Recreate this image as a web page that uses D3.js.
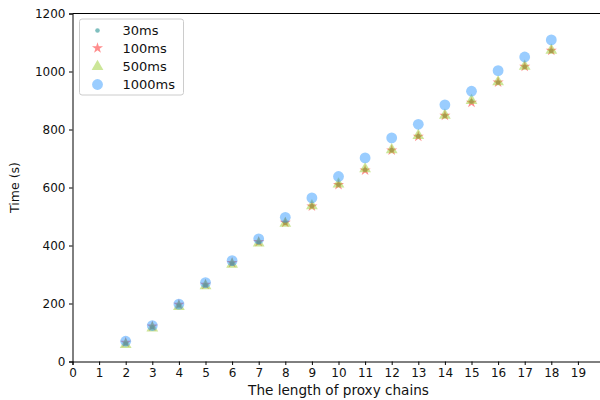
<!DOCTYPE html>
<html>
<head>
<meta charset="utf-8">
<script src="https://cdn.jsdelivr.net/npm/d3@7"></script>
<style>
  body { margin: 0; background: #fff; }
  svg { display: block; font-family: "DejaVu Sans", sans-serif; }
</style>
</head>
<body>
<svg id="chart" width="600" height="400"></svg>
<script>
// proxy chain lengths
const chainLengths = [2, 3, 4, 5, 6, 7, 8, 9, 10, 11, 12, 13, 14, 15, 16, 17, 18]

// time (s) for each interval setting
const time30 = [62, 118, 193, 263, 338, 410, 478, 536, 610, 661, 729, 777, 847, 897, 962, 1016, 1071]
const time100 = [65, 121, 196, 265, 340, 413, 479, 535, 609, 659, 728, 776, 848, 893, 963, 1017, 1072]
const time500 = [58, 115, 189, 261, 335, 408, 476, 537, 612, 664, 730, 779, 849, 900, 964, 1018, 1073]
const time1000 = [70, 124, 198, 272, 348, 423, 497, 564, 638, 702, 771, 818, 885, 932, 1003, 1050, 1109]

const xTicks = d3.range(0, 20)
const yTicks = [0, 200, 400, 600, 800, 1000, 1200]

const seriesNames = ['30ms', '100ms', '500ms', '1000ms']

const svg = d3.select('#chart')

// plot area (right edge runs past the picture, as in the original)
const margin = { top: 13.5, left: 72.5, bottom: 38.5 }
const plotHeight = 400 - margin.top - margin.bottom

const x = d3.scaleLinear()
    .domain([0, 20])
    .range([margin.left, margin.left + 20 * 26.6])

const y = d3.scaleLinear()
    .domain([0, 1200])
    .range([margin.top + plotHeight, margin.top])

// axes
const xAxis = svg.append('g')
    .attr('transform', `translate(0, ${y(0)})`)
    .call(d3.axisBottom(x).tickValues(xTicks).tickSize(3.5).tickPadding(3.5).tickFormat(d3.format('d')))

const yAxis = svg.append('g')
    .attr('transform', `translate(${x(0)}, 0)`)
    .call(d3.axisLeft(y).tickValues(yTicks).tickSize(3.5).tickPadding(3.5).tickFormat(d3.format('d')))

for (const ax of [xAxis, yAxis]) {
    ax.select('.domain').attr('stroke', '#000').attr('stroke-width', 1)
    ax.selectAll('.tick line').attr('stroke', '#000')
    ax.selectAll('.tick text')
        .style('font-family', '"DejaVu Sans", sans-serif')
        .style('font-size', '12px')
        .attr('fill', '#111')
}

// top spine
svg.append('line')
    .attr('x1', x(0)).attr('x2', x(20))
    .attr('y1', y(1200)).attr('y2', y(1200))
    .attr('stroke', '#000')

// axis labels
svg.append('text')
    .attr('x', 338.5)
    .attr('y', 395)
    .attr('text-anchor', 'middle')
    .style('font-size', '13.6px')
    .attr('fill', '#111')
    .text('The length of proxy chains')

svg.append('text')
    .attr('transform', `translate(19, ${y(600)}) rotate(-90)`)
    .attr('text-anchor', 'middle')
    .style('font-size', '12.5px')
    .attr('fill', '#111')
    .text('Time (s)')

// marker drawers
const star = d3.symbol().type(d3.symbolStar)
const tri = d3.symbol().type(d3.symbolTriangle)

function drawCircles(values, r, color, opacity) {
    svg.append('g')
        .selectAll('circle')
        .data(values)
        .enter()
        .append('circle')
        .attr('cx', (d, i) => x(chainLengths[i]))
        .attr('cy', d => y(d))
        .attr('r', r)
        .attr('fill', color)
        .attr('fill-opacity', opacity)
}

function drawSymbols(values, gen, size, color, opacity) {
    svg.append('g')
        .selectAll('path')
        .data(values)
        .enter()
        .append('path')
        .attr('d', gen.size(size))
        .attr('transform', (d, i) => `translate(${x(chainLengths[i])}, ${y(d)})`)
        .attr('fill', color)
        .attr('fill-opacity', opacity)
}

drawCircles(time30, 2.3, 'teal', 0.5)
drawSymbols(time100, star, 38, 'red', 0.45)
drawSymbols(time500, tri, 60, 'yellowgreen', 0.5)
drawCircles(time1000, 5.4, 'dodgerblue', 0.45)

// legend
const legend = svg.append('g').attr('transform', 'translate(79.5, 19)')
legend.append('rect')
    .attr('width', 104)
    .attr('height', 76)
    .attr('rx', 2.5)
    .attr('fill', '#fff')
    .attr('fill-opacity', 0.8)
    .attr('stroke', '#ccc')
    .attr('stroke-width', 1)

const legendRows = [11.5, 29, 47.5, 65.5]
const mk = legend.append('g')
mk.append('circle').attr('cx', 18).attr('cy', legendRows[0]).attr('r', 2.3).attr('fill', 'teal').attr('fill-opacity', 0.5)
mk.append('path').attr('d', star.size(38)).attr('transform', `translate(18, ${legendRows[1]})`).attr('fill', 'red').attr('fill-opacity', 0.45)
mk.append('path').attr('d', tri.size(60)).attr('transform', `translate(18, ${legendRows[2]})`).attr('fill', 'yellowgreen').attr('fill-opacity', 0.5)
mk.append('circle').attr('cx', 18).attr('cy', legendRows[3]).attr('r', 5.4).attr('fill', 'dodgerblue').attr('fill-opacity', 0.45)

legend.selectAll('text.lbl')
    .data(seriesNames)
    .enter()
    .append('text')
    .attr('class', 'lbl')
    .attr('x', 43)
    .attr('y', (d, i) => legendRows[i] + 4.5)
    .style('font-size', '13px')
    .attr('fill', '#111')
    .text(d => d)
</script>
</body>
</html>
